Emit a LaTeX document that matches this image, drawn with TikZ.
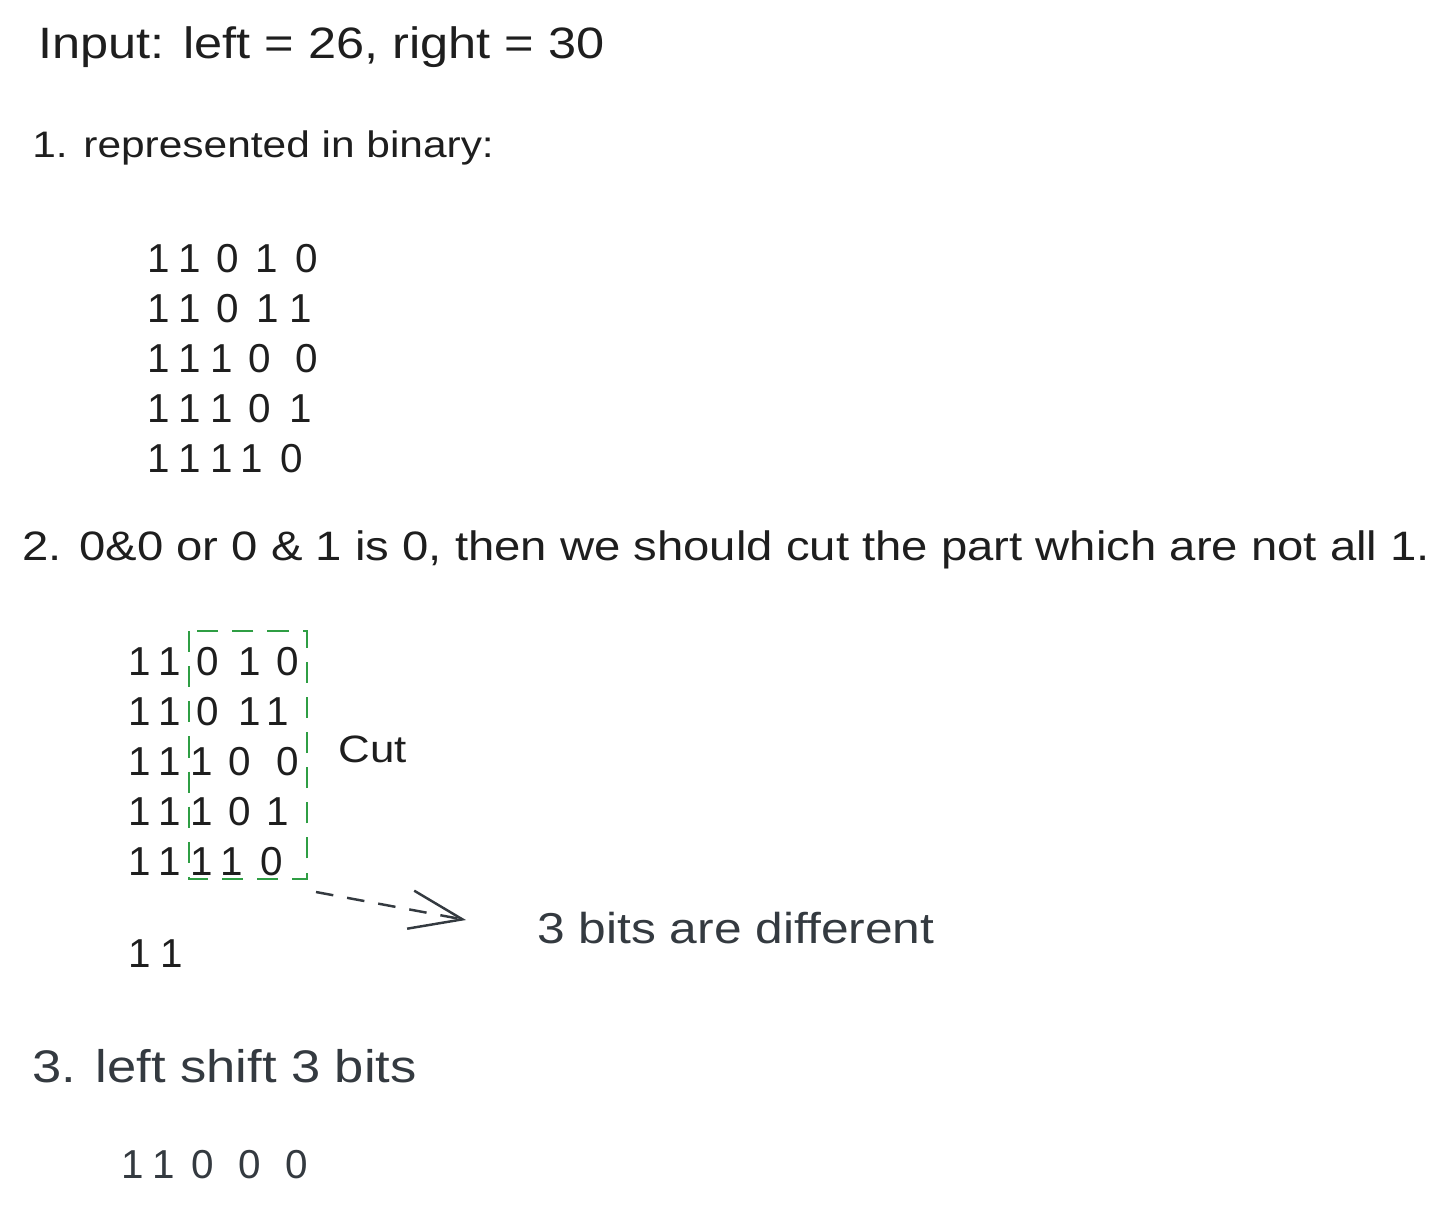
\documentclass[tikz,border=0pt]{standalone}
\usepackage{fontspec}
\setmainfont[FakeStretch=1.15]{Liberation Sans}
\newfontfamily\bitfont{Liberation Sans}
\usetikzlibrary{arrows.meta}
\definecolor{inkblack}{HTML}{1E1E1E}
\definecolor{inkgray}{HTML}{343A40}
\definecolor{cutgreen}{HTML}{2F9E44}
\newcommand{\textpt}[1]{\fontsize{#1}{#1}\selectfont}
\begin{document}
\begin{tikzpicture}[
        x=0.02cm, y=-0.02cm,
        txt/.style={anchor=base west, inner sep=0pt, text=inkblack},
        soft/.style={txt, text=inkgray},
        bit/.style={anchor=base, inner sep=0pt, text=inkblack, font=\bitfont\textpt{23}},
        softbit/.style={bit, text=inkgray},
        cutbox/.style={draw=cutgreen, line width=1.5pt, dash pattern=on 12pt off 8pt},
        pointer/.style={draw=inkgray, line width=1.4pt, dash pattern=on 10pt off 8pt, -{Straight Barb[length=30pt,width=22pt]}},
    ]
    \useasboundingbox (0,0) rectangle (1456,1215);
    % header
    \node[txt, font=\textpt{25}](input) at (38,58){Input: left = 26, right = 30};
    \node[txt, font=\textpt{21}](step1) at (32,157){1. represented in binary:};
    % rows in binary
    \foreach \d/\x [count=\i] in {1/159,1/190,0/228,1/267,0/307}
        \node[bit](b1-\i) at (\x,272){\d};
    \foreach \d/\x [count=\i] in {1/159,1/190,0/228,1/268,1/301}
        \node[bit](b2-\i) at (\x,322){\d};
    \foreach \d/\x [count=\i] in {1/159,1/190,1/222,0/260,0/307}
        \node[bit](b3-\i) at (\x,372){\d};
    \foreach \d/\x [count=\i] in {1/159,1/190,1/222,0/260,1/301}
        \node[bit](b4-\i) at (\x,422){\d};
    \foreach \d/\x [count=\i] in {1/159,1/190,1/222,1/252,0/292}
        \node[bit](b5-\i) at (\x,472){\d};
    % cut the part which differs
    \node[txt, font=\textpt{23.4}](step2) at (22,560){2. 0\&0 or 0 \& 1 is 0, then we should cut the part which are not all 1.};
    \foreach \d/\x [count=\i] in {1/140,1/170,0/208,1/250,0/288}
        \node[bit](c1-\i) at (\x,675){\d};
    \foreach \d/\x [count=\i] in {1/140,1/170,0/208,1/250,1/278}
        \node[bit](c2-\i) at (\x,725){\d};
    \foreach \d/\x [count=\i] in {1/140,1/170,1/202,0/240,0/288}
        \node[bit](c3-\i) at (\x,775){\d};
    \foreach \d/\x [count=\i] in {1/140,1/170,1/202,0/240,1/278}
        \node[bit](c4-\i) at (\x,825){\d};
    \foreach \d/\x [count=\i] in {1/140,1/170,1/202,1/232,0/272}
        \node[bit](c5-\i) at (\x,875){\d};
    \draw[cutbox] (189,631) rectangle (307,879);
    \coordinate (boxcorner) at (316,892);
    \node[txt, font=\textpt{21.7}](cut) at (338,762){Cut};
    \node[bit](common-1) at (140,967){1};
    \node[bit](common-2) at (172,967){1};
    \coordinate (tip) at (466,920);
    \draw[pointer] (boxcorner) -- (tip);
    \node[soft, font=\textpt{24.6}](diff) at (537,943){3 bits are different};
    % shift back
    \node[soft, font=\textpt{26}](step3) at (32,1082){3. left shift 3 bits};
    \foreach \d/\x [count=\i] in {1/133,1/164,0/203,0/250,0/297}
        \node[softbit](r-\i) at (\x,1178){\d};
\end{tikzpicture}
\end{document}
